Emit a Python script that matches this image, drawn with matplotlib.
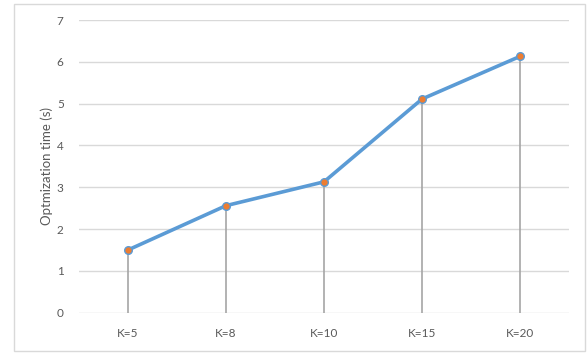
import matplotlib
matplotlib.use("Agg")
import matplotlib.pyplot as plt
from matplotlib.patches import Rectangle

# Werte
categories = ["K=5", "K=8", "K=10", "K=15", "K=20"]
opt_time = [1.50, 2.56, 3.13, 5.11, 6.13]
y_ticks = [0, 1, 2, 3, 4, 5, 6, 7]

plt.rcParams["font.family"] = ["Lato", "DejaVu Sans"]
text_col = "#595959"

fig = plt.figure(figsize=(5.87, 3.54), dpi=100)
ax = fig.add_axes([0.1346, 0.1167, 0.8348, 0.8268])

x = list(range(len(categories)))

# Lotlinien zur x-Achse
ax.vlines(x, 0, opt_time, color="#a5a5a5", linewidth=1.2, zorder=2)
ax.plot(x, opt_time, color="#5b9bd5", linewidth=2.6, marker="o",
        markersize=5.5, markerfacecolor="#ed7d31",
        markeredgecolor="#5b9bd5", markeredgewidth=1.0, zorder=3)

ax.set_xlim(-0.5, len(categories) - 0.5)
ax.set_ylim(0, 7)
ax.set_yticks(y_ticks)
ax.set_xticks(x)
ax.set_xticklabels(categories)
ax.grid(axis="y", color="#d9d9d9", linewidth=1.0, zorder=0)
ax.set_axisbelow(True)
for s in ax.spines.values():
    s.set_visible(False)
ax.tick_params(length=0, labelsize=8.5, colors=text_col)
ax.tick_params(axis="y", pad=11)
ax.tick_params(axis="x", pad=11)
ax.set_ylabel("Optmization time (s)", fontsize=9.5, color=text_col, labelpad=3)

# grauer Rahmen um die Grafik
fig.patches.append(Rectangle((14 / 587, 3 / 354), 571 / 587, 347 / 354,
                             transform=fig.transFigure, fill=False,
                             edgecolor="#d9d9d9", linewidth=1.0))

fig.savefig("out.png", dpi=100)
